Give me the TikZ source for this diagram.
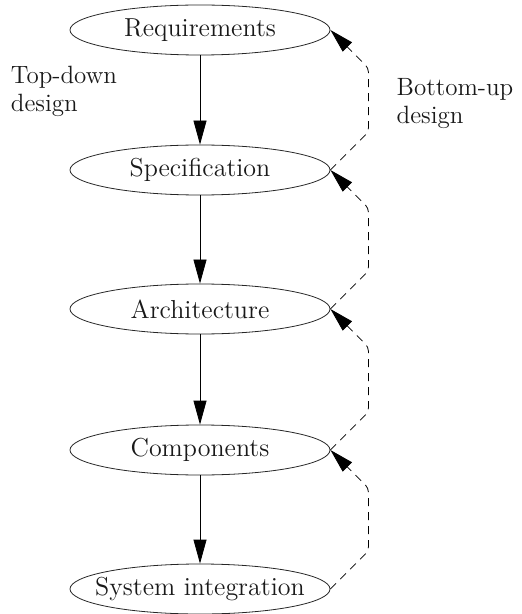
\documentclass[tikz,border=0pt]{standalone}
\usepackage{tikz}
\usetikzlibrary{arrows.meta,shapes.geometric,calc}

\begin{document}
\begin{tikzpicture}[x=0.5pt,y=-0.5pt, >={Triangle[length=12pt,width=6.5pt]}, semithick,
	level/.style={ellipse,draw=black!85,thin,text=black!90,minimum width=130pt,minimum height=25pt,inner sep=0pt,font=\fontsize{13}{15}\selectfont},
	side/.style={align=left,text=black!90,font=\fontsize{12.5}{14}\selectfont},
	up/.style={thin,dashed,dash pattern=on 4pt off 3pt,rounded corners=2pt,->}]
	\useasboundingbox (0,0) rectangle (521,614);
	\node[level] at (200,30) (req) {Requirements};
	\node[level] at (200,170) (spec) {Specification};
	\node[level] at (200,309) (arch) {Architecture};
	\node[level] at (200,450) (comp) {Components};
	\node[level] at (200,589) (sys) {\makebox[60pt]{System integration}};
	\node[side] at (64,91) (td) {Top-down\\design};
	\node[side] at (455,104) (bu) {Bottom-up\\design};
	\draw[thin,->] (req) -- (spec);
	\draw[thin,->] (spec) -- (arch);
	\draw[thin,->] (arch) -- (comp);
	\draw[thin,->] (comp) -- (sys);
	\draw[up] (spec.east) -- ++(38,-38) -- ($(req.east)+(38,38)$) -- (req.east);
	\draw[up] (arch.east) -- ++(38,-38) -- ($(spec.east)+(38,38)$) -- (spec.east);
	\draw[up] (comp.east) -- ++(38,-38) -- ($(arch.east)+(38,38)$) -- (arch.east);
	\draw[up] (sys.east) -- ++(38,-38) -- ($(comp.east)+(38,38)$) -- (comp.east);
\end{tikzpicture}
\end{document}
